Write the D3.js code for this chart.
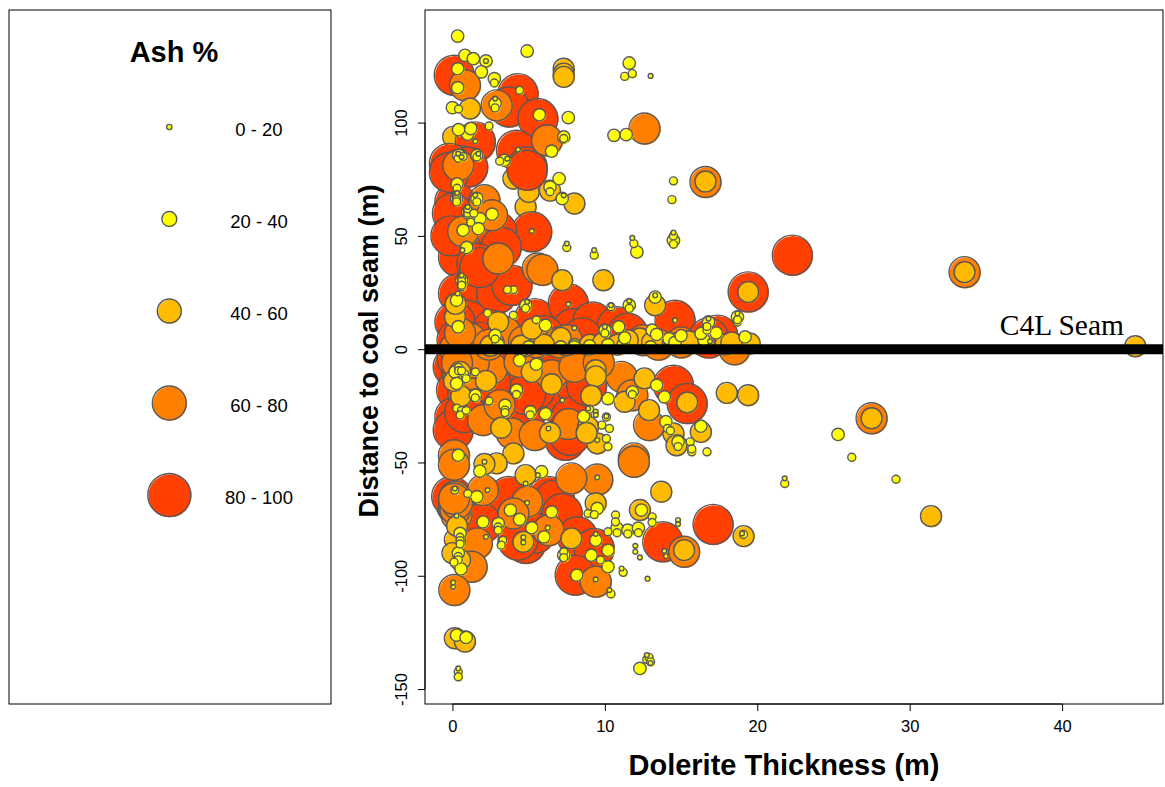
<!DOCTYPE html>
<html>
<head>
<meta charset="utf-8">
<title>Ash % by dolerite thickness</title>
<script src="https://cdn.jsdelivr.net/npm/d3@7"></script>
<style>
  html, body { margin: 0; padding: 0; background: #fff; }
  svg { display: block; }
  text { font-family: "Liberation Sans", Arial, sans-serif; fill: #000; }
</style>
</head>
<body>
<script>
'use strict';

const legendLabels = ["0 - 20", "20 - 40", "40 - 60", "60 - 80", "80 - 100"];
const xTicks = [0, 10, 20, 30, 40];
const yTicks = [-150, -100, -50, 0, 50, 100];

// [thickness, distance], one list per ash class
const redPoints = [[0.12,120.9],[4.3,112.8],[3.7,106.9],[5.6,101.8],[1.5,91.5],[4.2,87.8],[4.9,80.4],[4.9,79],
  [0.05,80.4],[0.4,79],[0.6,81],[1,80.4],[0.16,65],[0.16,54],[0.4,49.6],[0.93,43.7],[0.4,40.7],[2.6,49.6],[2.9,47],
  [5.2,51.8],[0.4,24.6],[2.9,24.6],[3.9,28.2],[1,12.8],[0.16,12],[5.4,13.5],[7.6,20.1],[7.9,9.1],[9.2,12],[10.8,9.9],
  [14.6,12.8],[19.4,25.3],[22.3,41.5],[17.4,6.2],[2.6,8.4],[0.05,-7.8],[0.27,-18],[0.16,-29.9],[0.05,-35.7],[7,-24],
  [7.4,-39.4],[7.4,-40.2],[7.7,-38],[14.5,-15.9],[15.4,-24],[2.3,-25.4],[4.8,-28],[4.8,-85.7],[3.7,-65],[6.3,-68],
  [6.3,-65],[6.7,-66.6],[7.2,-72.5],[0.27,-68.8],[-0.05,-65],[1.9,-76.9],[8.2,-82.8],[9.3,-88],[8.05,-99.7],[13.8,-85],
  [17.1,-77.3],[5.4,-81.3],[4.3,-84.3],
  [0.6,-10],[3.4,-13],[5.4,-6],[7.2,-3.5],[5.4,-18],[1,-19.6],[0.8,-28],[3.7,-14],[8,-15],[8.7,-5],[4.8,-20],[7.8,-30],
  [8.8,-16],[0.3,-4],[2,-5],[2.5,-15],[3.5,3],[6,6],[8.5,5],[0.3,4],[1.8,3],[11.5,7],[16.8,5],[-0.2,82],[-0.2,78],[0,60],
  [-0.1,50],[2.9,52],[3.2,45],[1.6,38],[1.8,36]];
const orangePoints = [[0.82,116.5],[2.9,107.6],[6.2,92.2],[12.6,97.4],[16.6,73.8],[0.38,81.2],[2.1,65.7],[2.6,59.1],
  [0.7,52],[3,40],[5.6,35.6],[5.9,35],[3.45,7.6],[0.16,0.3],[1.15,4.7],[18.5,0],[2.6,-8.5],[4.4,-5.6],[6.5,-11.5],
  [8,-7.8],[11.1,-12.2],[11.8,-20.3],[2,-31.3],[3.9,-37.2],[5.4,-37.9],[3.1,-24.7],[0.1,-46.8],[0.1,-51],[12.9,-33.5],
  [11.9,-48.2],[11.9,-49.7],[9.5,-57.5],[7.8,-57],[4.9,-67.3],[2,-62.2],[0.27,-73.2],[4,-72.5],[1.6,-85.7],[6.3,-79.9],
  [1.26,-96],[0.12,-106.3],[9.4,-102.6],[15.2,-89.4],[33.6,34],[27.5,-30.5],[0.16,-65],[0.1,-70],
  [1.2,-11],[1.4,-6],[0.3,-6],[9.6,-6],[7.6,-33],[12.5,4],[5.5,3],[7,3],[4.7,3.5],[13.5,2],[15,3],[2.4,2],[0.5,7],[7.5,4],
  [0.2,-70.5],[0.3,-68],[0.1,-66]];
const amberBehind = [[4.8,62.8],[5,69.4],[6.4,70],[4,75.3],[0.05,93.7]];
const amberPoints = [[7.3,123.8],[7.3,121.6],[7.3,120.2],[1.15,106.2],[8,64.3],[7.2,30.4],[9.9,30.4],[19.4,25.3],
  [0.16,14.3],[13.3,19.4],[12.3,4.7],[11.5,4],[14.6,2.5],[19.5,2.5],[16.5,3.2],[9,2],[16.6,74],[9.4,-9.3],[12.6,-12.9],
  [15.4,-23.5],[18,-19.3],[19.4,-20.3],[11.3,-23.2],[3.2,-34.7],[6.4,-36.9],[4,-46],[2.9,-50.4],[2.1,-50.7],[4.8,-55.6],
  [13.7,-62.9],[9.4,-68],[9.5,-41.6],[8.9,-34.3],[12.9,-26.9],[14.5,-37.2],[14.7,-42.4],[16.3,-36.5],[0.56,-20.7],
  [12.3,-71],[19.1,-82.5],[15.2,-88.7],[4.65,-85],[7.8,-83.5],[0.16,-127.6],[0.82,-129],[33.6,34],[44.8,1.3],
  [27.5,-30.5],[31.4,-73.7],
  [9.4,-12],[9.1,-20.5],[0.5,-10],[2.2,-14],[0.1,-14],[6.5,-15.5],[8.8,-37],[5.2,-10],[9.9,3],[10.8,2],[13.1,3],[7.1,5],[6,2],
  [2.5,1.5],[4.5,1.5],[15.5,3.5],[17.9,2],[18.3,3],[3,12],[5.2,9],[0.2,20],[0.16,-84],[0.5,-93],[0,-90],[0.3,-78]];
const yellowPoints = [[0.34,138.2],[4.9,131.6],[0.82,129.7],[1.37,128.2],[2.2,127.2],[1.9,122.4],[2.75,119.4],
  [0.34,115.4],[11.6,126.3],[0,106.6],[7.6,102.2],[5.7,103.5],[10.6,94.4],[11.4,94.7],
  [6.5,87.4],[7.3,93.7],[1,94.9],[1.2,97.4],[0.4,96.9],[2.8,108.4],
  [0.34,123.8],[1.6,85.6],[0.4,85.6],[0.93,44.9],[0.7,52.5],[2.6,59.6],[1.8,57.6],
  [1.7,53.2],[0.3,73],[0.27,66.5],[1.6,66.5],[1,60.5],[7,75.3],[6.4,71.6],
  [7.2,66.5],[3.4,83.4],[12.1,42.9],[14.5,48],[0.6,30.4],[0.27,21.6],[4.8,19.4],[0.38,9.9],[6.1,10.6],[10,8.4],
  [10.9,9.9],[11.6,19.4],[13.3,23],[16.8,12],[17.3,7.2],[18.7,14.3],
  [13.1,8.4],[14.2,4.7],[16.5,4],[9,1.5],[19.2,5.4],[2.8,6.2],[8,2],[4.4,-4.9],[5.5,-6.6],
  [0.16,-10],[10.2,-21.8],[11.8,-18.8],[13.4,-15.9],[13.9,-21],[6.1,-28.4],[8.6,-29.6],
  [3.45,-24.7],[4.2,-18],[5.1,-27.6],[1.5,-20.3],[0.27,-15.1],[14,-32],[14.8,-40.9],
  [16.3,-34],[0.38,-46.8],[1.8,-53.8],[5.85,-54.1],[1.6,-65.1],[3.8,-71],[4.4,-75.1],[2,-76.2],[3,-76.9],[6.5,-71.8],
  [5.2,-78.8],[6,-82.8],[0.5,-81.3],[0.38,-90],[0.56,-97],[8.15,-99.7],
  [9.1,-90.9],[10.2,-88.7],[10.2,-96],[9.4,-84.3],[9.5,-70.3],[10.8,-79.1],[11.5,-79.9],[12.2,-79],[7.3,-90.9],
  [12.4,-71],[0.27,-126.2],[0.9,-127.2],[12.3,-140.9],[25.3,-37.6],
  [14.6,3],[15,6],[13.4,6.5],[13,1],[16.3,7],[11.2,2],[10.2,2],[5,1],[3,2],[7.1,1],[8,1],[11.3,5]];
const lowYellowPoints = [[11.3,120.4],[11.8,121.6],[2.75,117.5],[0.4,106],[7.3,93],[2.4,98.5],[14.5,74.3],[14.4,66],[2.8,106.5],
  [4.4,114.3],[1.6,84.8],[0.7,85],[0.38,84.3],[0.3,71],[0.3,67.5],[0.27,65.5],[1.6,65],[1,59],[1.2,58],
  [6.4,69.5],[3.1,83],[11.9,46.6],[14.5,46.3],[14.5,50],[7.5,44.9],[9.3,41.5],[0.6,29],[0.6,27.5],[2.3,16],[4.8,18],[4,26.3],[3.6,26.3],
  [10,7],[10.4,18.7],[11.6,18],[16.7,8.4],[16.7,10],[18.7,12],[18.7,13],[2.8,4.5],[4,15],[5.5,13],[0.4,-8],[0.4,-9.5],[11.8,-20],
  [9.8,-33.5],[10.1,-29.9],[10.3,-35],[10.1,-39.4],[10.2,-43],[2.4,-22.9],[3.45,-26.9],[3.45,-28],[4.2,-20],[5.1,-29],[1.5,-21.5],
  [0.27,-26],[0.6,-27],[0.5,-29],[14.1,-35],[14.3,-36],[14.8,-43],[15.6,-40.9],[15.7,-45.3],[15.7,-44],[16.7,-45.3],
  [0.16,-62.2],[1,-63.7],[3,-78.5],[3,-79.9],[3.3,-84.3],[3.2,-86.5],[0.5,-83],[0.5,-84.5],[0.5,-86],[0.38,-91.5],[0.38,-93],[0.1,-94],
  [9.7,-93],[8.9,-72.5],[9.3,-73],[10.7,-73.2],[10.7,-76.2],[10.8,-81],[11.5,-81.5],[12.2,-81],[10.2,-80.6],[7.3,-89.4],[7.3,-92],
  [11.2,-98.5],[10.4,-108],[13.1,-74],[13.1,-76.5],[0.38,-142.4],[0.38,-144.6],[12.75,-136.9],[12.9,-136],[13,-138],[21.8,-59.3],
  [26.2,-47.7],[29.1,-57.4],[19.1,-81.8],
  [0.8,-11],[0.9,-13],[0.6,-9.5],[1.5,-10],[0.9,-27],[9,-26.5],[0.27,68],[0.27,67],[0.27,66],[0.27,65],[1,61],[1,60],[1,62],[1.4,60],
  [1.2,56],[0.6,31],[0.6,30],[0.6,28.2]];
const smallPoints = [[2.2,127.2],[13,120.6],[4.3,88.1],[1.5,91.8],[5.2,52.2],[0.65,43.7],[7.6,19.9],[8,9.4],[14.6,12.8],[10,9.9],
  [7.5,46.6],[9.3,43.7],[11.8,49.1],[14.5,51.5],[7.3,67.9],[0.3,69],[1,62.8],[1.5,68],[0.38,86.3],[1.7,86.3],[0.6,84.8],
  [3.6,84.1],[2.8,110.6],[16.8,13.5],[18.7,15.8],[11.6,21.3],[13.3,23.8],[10.4,19.4],[0.6,32.6],[0.34,24.6],[4.9,20.9],[16.9,3.5],
  [2.1,-49.7],[9.5,-56.6],[4.9,-67.8],[9.5,-40.1],[6.3,-35],[8.9,-26.2],[9.4,-27.6],[9.4,-29],[10.1,-29.6],[12.8,-101.3],[12,-86.8],
  [12,-89.4],[12.3,-91.9],[19,-81.3],[14.8,-75.4],[14.8,-77.2],[14,-91.3],[13.9,-89],[9.4,-101.6],[0.05,-104.9],[0.05,-103],[4.65,-83],
  [4.65,-85.3],[6.25,-78.8],[9.4,-81.5],[11.1,-96.8],[10.3,-106.3],[12.75,-135],[13,-138.5],[0.38,-140.9],[21.8,-57],[0.27,-73.5],
  [0.16,-61.5],[5.6,-55.6],[2.3,-62.2],[2.2,-82.8],[4.8,-59.3],[7.2,-22.5]];

const width = 1165, height = 787;
const plot = {left: 425, right: 1163, top: 10, bottom: 704};
const stroke = "#595959";

const classFill = d3.scaleOrdinal()
  .domain(legendLabels)
  .range(["#ffff00", "#ffff00", "#ffbb00", "#ff8000", "#ff4000"]);
const legendRadius = d3.scaleOrdinal()
  .domain(legendLabels)
  .range([2.6, 7.5, 12, 17, 21.5]);

const svg = d3.select("body").append("svg")
  .attr("width", width)
  .attr("height", height);

// scales, domains worked out from the tick positions in the picture
const x = d3.scaleLinear().domain([-1.8, 46.62]).range([plot.left, plot.right]);
const y = d3.scaleLinear().domain([-156.6, 149.7]).range([plot.bottom, plot.top]);

// the source raster has its fill slipped a pixel off the outline, so draw them apart
function drawBubbles(points, label, r) {
  const marks = svg.append("g")
    .attr("class", "bubbles")
    .selectAll("g.mark")
    .data(points)
    .enter().append("g")
      .attr("class", "mark");
  marks.append("circle")
    .attr("cx", (d) => x(d[0]) + 0.8)
    .attr("cy", (d) => y(d[1]) + 0.8)
    .attr("r", r)
    .attr("fill", classFill(label));
  marks.append("circle")
    .attr("cx", (d) => x(d[0]))
    .attr("cy", (d) => y(d[1]))
    .attr("r", r)
    .attr("fill", "none")
    .attr("stroke", stroke)
    .attr("stroke-width", 1.4);
}

drawBubbles(amberBehind, "40 - 60", 10.5);
drawBubbles(redPoints, "80 - 100", 20);
drawBubbles(orangePoints, "60 - 80", 15.5);
drawBubbles(amberPoints, "40 - 60", 10.5);
drawBubbles(yellowPoints, "20 - 40", 6.2);
drawBubbles(lowYellowPoints, "20 - 40", 4);
drawBubbles(smallPoints, "0 - 20", 2.4);

// seam line over the bubbles
svg.append("line")
  .attr("x1", plot.left)
  .attr("x2", plot.right)
  .attr("y1", y(0))
  .attr("y2", y(0))
  .attr("stroke", "#000")
  .attr("stroke-width", 10);

svg.append("text")
  .attr("x", 1124)
  .attr("y", 335)
  .attr("text-anchor", "end")
  .style("font-family", '"Liberation Serif", serif')
  .style("font-size", "29.5px")
  .text("C4L Seam");

// plot frame and axes
svg.append("rect")
  .attr("x", plot.left)
  .attr("y", plot.top)
  .attr("width", plot.right - plot.left)
  .attr("height", plot.bottom - plot.top)
  .attr("fill", "none")
  .attr("stroke", "#000");

const xAxis = d3.axisBottom(x).tickValues(xTicks).tickSize(7).tickPadding(9).tickFormat(String);
svg.append("g")
  .attr("class", "x-axis")
  .attr("transform", "translate(0," + plot.bottom + ")")
  .call(xAxis)
  .call((g) => g.select(".domain").attr("d", "M" + x(0) + ",0H" + x(40)));

const yAxis = d3.axisLeft(y).tickValues(yTicks).tickSize(7).tickPadding(7).tickFormat(String);
svg.append("g")
  .attr("class", "y-axis")
  .attr("transform", "translate(" + plot.left + ",0)")
  .call(yAxis)
  .call((g) => g.select(".domain").attr("d", "M0," + y(-150) + "V" + y(100)))
  .selectAll("text")
    .attr("transform", "rotate(-90,-18,0)")
    .attr("text-anchor", "middle")
    .attr("x", -18)
    .attr("y", 0)
    .attr("dy", "0");

svg.selectAll(".x-axis text, .y-axis text")
  .style("font-family", '"Liberation Sans", Arial, sans-serif')
  .style("font-size", "16.5px");

svg.append("text")
  .attr("x", 784)
  .attr("y", 775)
  .attr("text-anchor", "middle")
  .style("font-size", "29px")
  .style("font-weight", "bold")
  .text("Dolerite Thickness (m)");

svg.append("text")
  .attr("transform", "translate(378,351)rotate(-90)")
  .attr("text-anchor", "middle")
  .style("font-size", "27px")
  .style("font-weight", "bold")
  .text("Distance to coal seam (m)");

// legend panel
svg.append("rect")
  .attr("x", 9)
  .attr("y", plot.top)
  .attr("width", 322)
  .attr("height", plot.bottom - plot.top)
  .attr("fill", "none")
  .attr("stroke", "#000");

svg.append("text")
  .attr("x", 174)
  .attr("y", 62)
  .attr("text-anchor", "middle")
  .style("font-size", "29px")
  .style("font-weight", "bold")
  .text("Ash %");

const legendY = d3.scalePoint().domain(legendLabels).range([127, 495]);

legendLabels.forEach((label) => {
  drawLegendMark(label);
});

function drawLegendMark(label) {
  const cy = legendY(label);
  const r = legendRadius(label);
  svg.append("circle")
    .attr("cx", 170)
    .attr("cy", cy + 0.8)
    .attr("r", r)
    .attr("fill", classFill(label));
  svg.append("circle")
    .attr("cx", 169.3)
    .attr("cy", cy)
    .attr("r", r)
    .attr("fill", "none")
    .attr("stroke", stroke)
    .attr("stroke-width", 1.4);
  svg.append("text")
    .attr("x", 259)
    .attr("y", cy + 9)
    .attr("text-anchor", "middle")
    .style("font-size", "18.5px")
    .text(label);
}
</script>
</body>
</html>
